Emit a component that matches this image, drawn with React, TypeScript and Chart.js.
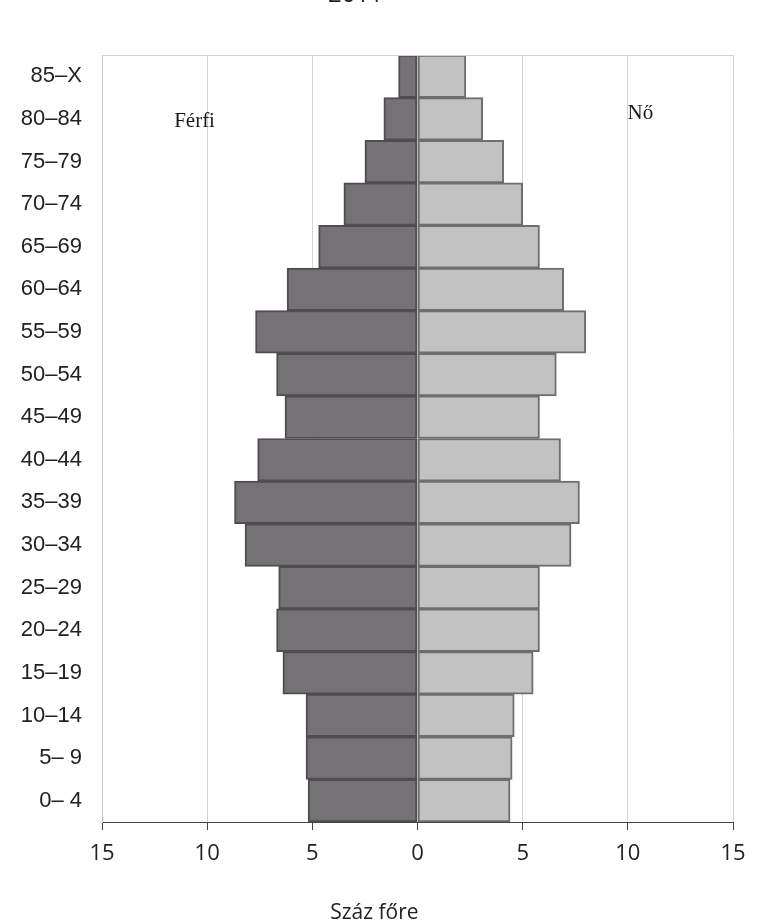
import React, { useEffect, useRef } from "react";
import { Chart, registerables } from "chart.js";

Chart.register(...registerables);

const ageGroups = [
  "85–X", "80–84", "75–79", "70–74", "65–69", "60–64", "55–59", "50–54", "45–49",
  "40–44", "35–39", "30–34", "25–29", "20–24", "15–19", "10–14", "5– 9", "0– 4",
];
const maleValues = [0.9, 1.6, 2.5, 3.5, 4.7, 6.2, 7.7, 6.7, 6.3, 7.6, 8.7, 8.2, 6.6, 6.7, 6.4, 5.3, 5.3, 5.2];
const femaleValues = [2.3, 3.1, 4.1, 5.0, 5.8, 6.95, 8.0, 6.6, 5.8, 6.8, 7.7, 7.3, 5.8, 5.8, 5.5, 4.6, 4.5, 4.4];
const xTickValues = [-15, -10, -5, 0, 5, 10, 15];
const titleText = "2011";
const xTitleText = "Száz főre";
const maleLabel = "Férfi";
const femaleLabel = "Nő";

const annotationPlugin = {
  id: "annotations",
  afterDraw(chart: any) {
    const { ctx, chartArea, scales } = chart;
    const xs = scales.x;
    const ys = scales.y;
    ctx.save();
    // top border of plot area
    ctx.strokeStyle = "#d0d0d0";
    ctx.lineWidth = 1;
    ctx.beginPath();
    ctx.moveTo(chartArea.left, chartArea.top + 0.5);
    ctx.lineTo(chartArea.right, chartArea.top + 0.5);
    ctx.stroke();

    // title (cut at top)
    ctx.fillStyle = "#222";
    ctx.textAlign = "center";
    ctx.textBaseline = "alphabetic";
    ctx.font = "24px 'Open Sans'";
    ctx.fillText(titleText, xs.getPixelForValue(-2.95), 2);

    // x axis title
    ctx.font = "21px 'Open Sans'";
    ctx.textBaseline = "middle";
    ctx.fillText(xTitleText, xs.getPixelForValue(-2.05), 913);

    // sex labels
    ctx.font = "21px 'Liberation Serif'";
    ctx.fillStyle = "#1a1a1a";
    ctx.fillText(maleLabel, xs.getPixelForValue(-10.6), ys.getPixelForValue(1) + 3);
    ctx.fillText(femaleLabel, xs.getPixelForValue(10.6), ys.getPixelForValue(1) - 5);
    ctx.restore();
  },
};

export default function App() {
  const ref = useRef<HTMLCanvasElement | null>(null);

  useEffect(() => {
    document.body.style.margin = "0";
    if (!ref.current) return;
    const chart = new Chart(ref.current, {
      type: "bar",
      data: {
        labels: ageGroups,
        datasets: [
          {
            label: maleLabel,
            data: maleValues.map((v) => -v),
            backgroundColor: "#747274",
            borderColor: "#4e4e4e",
            borderWidth: 2,
            borderSkipped: false,
            barPercentage: 1,
            categoryPercentage: 1,
          },
          {
            label: femaleLabel,
            data: femaleValues,
            backgroundColor: "#c2c2c2",
            borderColor: "#6e6e6e",
            borderWidth: 2,
            borderSkipped: false,
            barPercentage: 1,
            categoryPercentage: 1,
          },
        ],
      },
      options: {
        indexAxis: "y",
        responsive: false,
        animation: false,
        layout: { padding: { top: 55, right: 29, left: 0, bottom: 0 } },
        plugins: {
          legend: { display: false },
          tooltip: { enabled: false },
          title: { display: false },
        },
        scales: {
          x: {
            type: "linear",
            stacked: true,
            min: -15,
            max: 15,
            afterBuildTicks: (axis: any) => {
              axis.ticks = xTickValues.map((v) => ({ value: v }));
            },
            afterFit: (axis: any) => {
              axis.height = 102;
            },
            grid: {
              color: "#d4d4d4",
              tickColor: "#444",
              tickLength: 8,
              drawTicks: true,
            },
            border: { color: "#444", width: 1 },
            ticks: {
              padding: 11,
              color: "#222",
              font: { family: "'Open Sans'", size: 22 },
              callback: (v: any) => String(Math.abs(Number(v))),
            },
          },
          y: {
            type: "category",
            stacked: true,
            afterFit: (axis: any) => {
              axis.width = 102;
            },
            grid: { display: false, drawTicks: false },
            border: { color: "#c8c8c8", width: 1 },
            ticks: {
              padding: 20,
              color: "#222",
              font: { family: "'Liberation Sans'", size: 22 },
            },
          },
        },
      },
      plugins: [annotationPlugin],
    });
    return () => chart.destroy();
  }, []);

  return <canvas ref={ref} width={762} height={924} style={{ display: "block" }} />;
}
